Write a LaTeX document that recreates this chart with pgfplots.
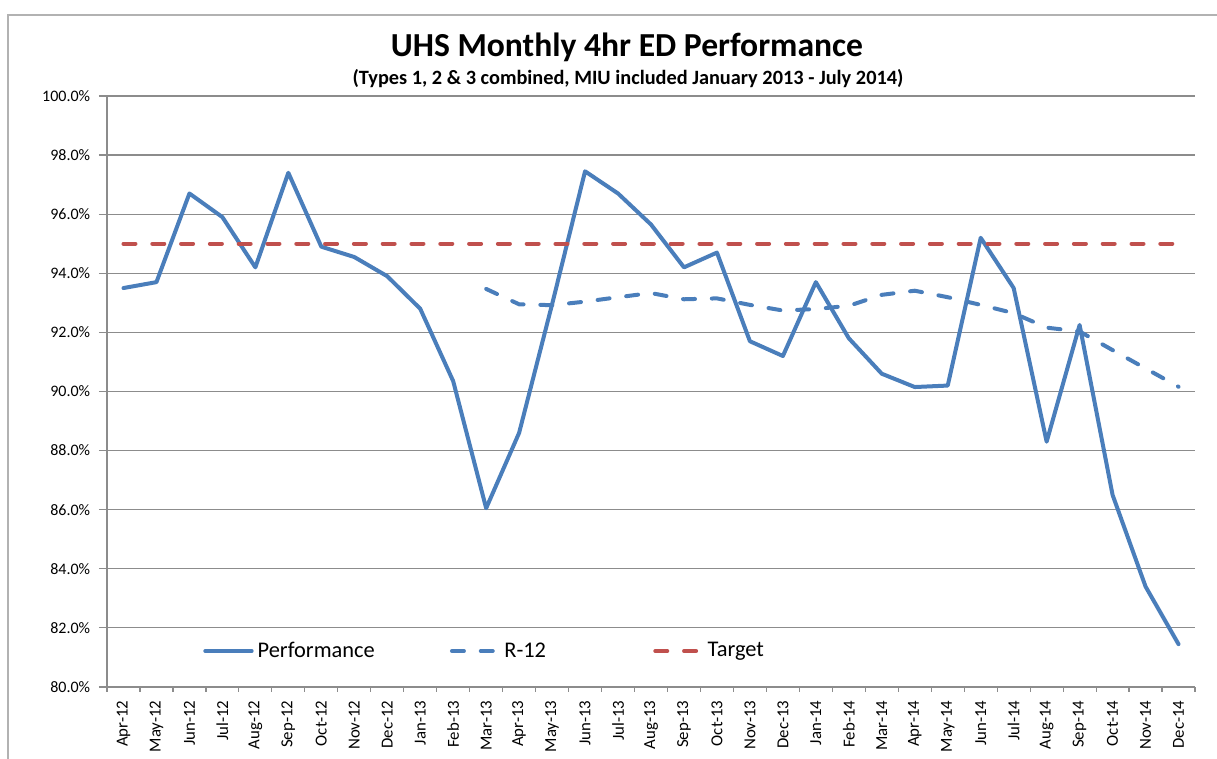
\documentclass[border=0pt]{standalone}
\usepackage{fontspec}
\setmainfont{Carlito}
\usepackage{pgfplots}
\pgfplotsset{compat=1.18}
\definecolor{perf}{HTML}{4A7EBB}
\definecolor{targ}{HTML}{C0504D}
\definecolor{gridc}{HTML}{8C8C8C}
\begin{document}
\begin{tikzpicture}
\useasboundingbox (-66.875pt,-44.375pt) rectangle (693.75pt,429.375pt);
\draw[gray!60, line width=0.9pt] (-61.875pt,-80pt) rectangle (720pt,420pt);
\begin{axis}[
  at={(0,0)}, anchor=south west,
  width=680pt, height=369.4pt, scale only axis,
  xmin=-0.5, xmax=32.5, ymin=80, ymax=100,
  axis x line*=bottom, axis y line*=left,
  axis line style={-, gridc, line width=0.75pt},
  xtick={0,...,32},
  xticklabels={Apr-12,May-12,Jun-12,Jul-12,Aug-12,Sep-12,Oct-12,Nov-12,Dec-12,Jan-13,Feb-13,Mar-13,Apr-13,May-13,Jun-13,Jul-13,Aug-13,Sep-13,Oct-13,Nov-13,Dec-13,Jan-14,Feb-14,Mar-14,Apr-14,May-14,Jun-14,Jul-14,Aug-14,Sep-14,Oct-14,Nov-14,Dec-14},
  major x tick style={draw=none},
  minor xtick={-0.5,0.5,...,32.5},
  minor x tick style={gridc, line width=0.75pt},
  ytick={80,82,...,100},
  y tick style={gridc, line width=0.75pt},
  tick align=outside,
  major tick length=5pt, minor tick length=3pt,
  ymajorgrids, grid style={gridc, line width=0.75pt},
  /pgf/number format/assume math mode=true,
  yticklabel={\pgfmathprintnumber[fixed,fixed zerofill,precision=1]{\tick}\%},
  yticklabel style={font=\fontsize{10}{12}\selectfont, xshift=-2pt},
  xticklabel style={rotate=90, anchor=east, font=\fontsize{10.5}{12}\selectfont},
  legend columns=3,
  legend style={draw=none, fill=none, at={(rel axis cs:0.0882,0.0609)}, anchor=west,
    font=\fontsize{14}{16}\selectfont, inner sep=0pt,
    nodes={inner sep=0pt},
    /tikz/column 1/.style={column sep=2.5pt},
    /tikz/column 2/.style={column sep=47pt},
    /tikz/column 3/.style={column sep=2.5pt},
    /tikz/column 4/.style={column sep=67pt},
    /tikz/column 5/.style={column sep=2.5pt}},
  legend image code/.code={\draw[#1] (0pt,0pt) -- (29pt,0pt);},
]
\addplot[perf, line width=2.5pt, line join=round, line cap=round] coordinates {
(0,93.5) (1,93.7) (2,96.7) (3,95.9) (4,94.2) (5,97.4) (6,94.9) (7,94.55)
(8,93.9) (9,92.8) (10,90.35) (11,86.05) (12,88.6) (13,92.95) (14,97.45)
(15,96.7) (16,95.65) (17,94.2) (18,94.7) (19,91.7) (20,91.2) (21,93.7)
(22,91.8) (23,90.6) (24,90.15) (25,90.2) (26,95.2) (27,93.5) (28,88.3)
(29,92.25) (30,86.5) (31,83.4) (32,81.45)};
\addlegendentry{Performance}
\addplot[perf, line width=2.5pt, line cap=round, dash pattern=on 7.5pt off 10.5pt] coordinates {
(11,93.47) (12,92.95) (13,92.92) (14,93.04) (15,93.19) (16,93.33) (17,93.12)
(18,93.15) (19,92.93) (20,92.74) (21,92.79) (22,92.9) (23,93.27) (24,93.41)
(25,93.19) (26,92.93) (27,92.65) (28,92.16) (29,92.03) (30,91.4) (31,90.78) (32,90.16)};
\addlegendentry{R-12}
\addplot[targ, line width=2.5pt, line cap=round, dash pattern=on 7.5pt off 10.5pt] coordinates {
(0,95) (1,95) (2,95) (3,95) (4,95) (5,95) (6,95) (7,95) (8,95) (9,95) (10,95)
(11,95) (12,95) (13,95) (14,95) (15,95) (16,95) (17,95) (18,95) (19,95) (20,95)
(21,95) (22,95) (23,95) (24,95) (25,95) (26,95) (27,95) (28,95) (29,95) (30,95)
(31,95) (32,95)};
\addlegendentry{Target}
\end{axis}
\node[font=\bfseries\fontsize{21}{24}\selectfont] at (325pt,400pt) {UHS Monthly 4hr ED Performance};
\node[font=\bfseries\fontsize{12.7}{14}\selectfont] at (325.6pt,380pt) {(Types 1, 2 \& 3 combined, MIU included January 2013 - July 2014)};
\end{tikzpicture}
\end{document}
